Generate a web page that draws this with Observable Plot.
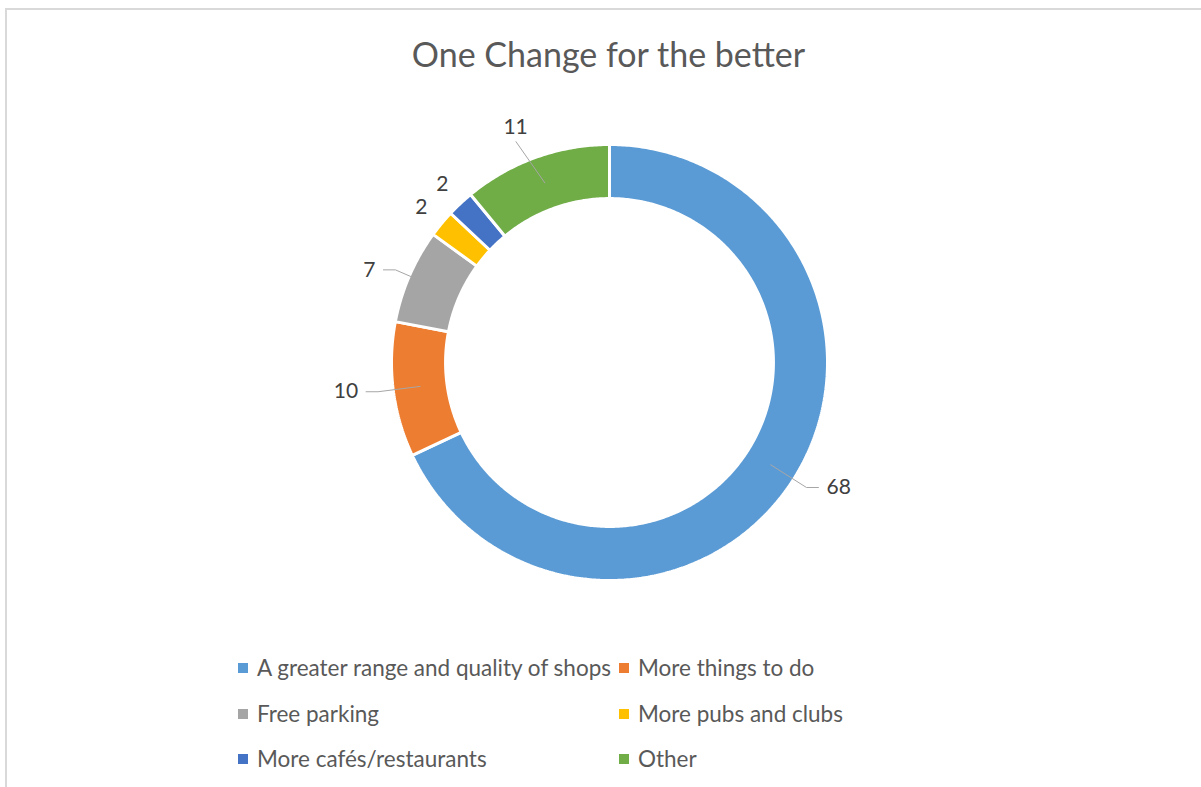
<!DOCTYPE html>
<html>
<head>
<meta charset="utf-8">
<script src="https://cdn.jsdelivr.net/npm/d3@7"></script>
<script src="https://cdn.jsdelivr.net/npm/@observablehq/plot@0.6"></script>
<style>
  html, body { margin: 0; padding: 0; background: #fff; overflow: hidden; }
  body { width: 1201px; height: 787px; position: relative; font-family: Lato, "Open Sans", sans-serif; }
  #frame { position: absolute; left: 5px; top: 8px; width: 1300px; height: 900px; border: 2px solid #d9d9d9; box-sizing: border-box; }
  #title { position: absolute; left: 16px; width: 1185px; top: 34px; text-align: center; font-size: 34px; color: #595959; line-height: 40px; }
  #chart { position: absolute; left: 0; top: 0; }
  .legend-item { position: absolute; font-size: 22.5px; color: #595959; line-height: 24px; white-space: nowrap; }
  .legend-item .sw { position: absolute; left: -19px; top: 7px; width: 10px; height: 10px; }
</style>
</head>
<body>
<div id="frame"></div>
<div id="chart"></div>
<div id="title"></div>
<div id="legend"></div>
<script>
// Survey answers: one change that would make the town better
const title = "One Change for the better";
const categories = [
  "A greater range and quality of shops",
  "More things to do",
  "Free parking",
  "More pubs and clubs",
  "More cafés/restaurants",
  "Other"
];
const values = [68, 10, 7, 2, 2, 11];
const colors = ["#5B9BD5", "#ED7D31", "#A5A5A5", "#FFC000", "#4472C4", "#70AD47"];

document.getElementById("title").textContent = title;

// Ring geometry in unit coordinates (outer radius = 1)
const outerR = 1.0;
const innerR = 0.752;
const total = d3.sum(values);
const pt = (a, r) => ({x: r * Math.sin(a), y: r * Math.cos(a)});

// Slice outlines: outer arc forward, inner arc back, clockwise from 12 o'clock
const slices = [];
const labels = [];
const leaders = [];
let acc = 0;
categories.forEach((key, i) => {
  const a0 = (acc / total) * 2 * Math.PI;
  acc += values[i];
  const a1 = (acc / total) * 2 * Math.PI;
  const n = Math.max(4, Math.ceil((a1 - a0) / 0.01));
  for (let k = 0; k <= n; k++) slices.push({key, ...pt(a0 + (a1 - a0) * k / n, outerR)});
  for (let k = n; k >= 0; k--) slices.push({key, ...pt(a0 + (a1 - a0) * k / n, innerR)});
  slices.push({key, ...pt(a0, outerR)});

  // Data label, with a leader line for the wider slices
  const m = (a0 + a1) / 2;
  const s = Math.sin(m);
  const label = String(values[i]);
  const hasLeader = values[i] > 2;
  const px = 1 / 218; // one pixel in unit coordinates
  if (!hasLeader) {
    labels.push({key, label, anchor: "middle", ...pt(m, 1.12)});
  } else if (Math.abs(s) < 0.5) {
    const start = pt(m, (outerR + innerR) / 2);
    const end = pt(m - 0.055, 1.10);
    leaders.push({key, ...start}, {key, ...end});
    labels.push({key, label, anchor: "middle", ...pt(m - 0.035, 1.16)});
  } else {
    const dir = Math.sign(s);
    const start = pt(m, (outerR + innerR) / 2);
    const elbow = pt(m, 1.07);
    const tail = {x: elbow.x + dir * 12 * px, y: elbow.y};
    leaders.push({key, ...start}, {key, ...elbow}, {key, ...tail});
    labels.push({key, label, anchor: dir > 0 ? "start" : "end", x: tail.x + dir * 8 * px, y: tail.y});
  }
});

const labelMark = (anchor) => Plot.text(labels.filter(d => d.anchor === anchor), {
  x: "x", y: "y", text: "label", textAnchor: anchor,
  fontSize: 21, fill: "#404040"
});

const cx = 609, cy = 362, R = 218;
const chart = Plot.plot({
  width: 1201,
  height: 787,
  margin: 0,
  style: {fontFamily: "Lato, 'Open Sans', sans-serif", background: "transparent"},
  x: {domain: [-1, 1], range: [cx - R, cx + R], axis: null},
  y: {domain: [-1, 1], range: [cy + R, cy - R], axis: null},
  color: {domain: categories, range: colors},
  marks: [
    Plot.line(slices, {x: "x", y: "y", z: "key", fill: "key", stroke: "white", strokeWidth: 3, strokeLinejoin: "miter"}),
    Plot.line(leaders, {x: "x", y: "y", z: "key", stroke: "#a6a6a6", strokeWidth: 1}),
    labelMark("start"),
    labelMark("end"),
    labelMark("middle")
  ]
});
document.getElementById("chart").appendChild(chart);

// Legend: two columns, three rows
const legend = document.getElementById("legend");
const colX = [257, 638];
const rowY = [668, 714, 759];
categories.forEach((key, i) => {
  const item = document.createElement("div");
  item.className = "legend-item";
  item.style.left = colX[i % 2] + "px";
  item.style.top = (rowY[Math.floor(i / 2)] - 12) + "px";
  const sw = document.createElement("span");
  sw.className = "sw";
  sw.style.background = colors[i];
  item.appendChild(sw);
  item.appendChild(document.createTextNode(key));
  legend.appendChild(item);
});
</script>
</body>
</html>
